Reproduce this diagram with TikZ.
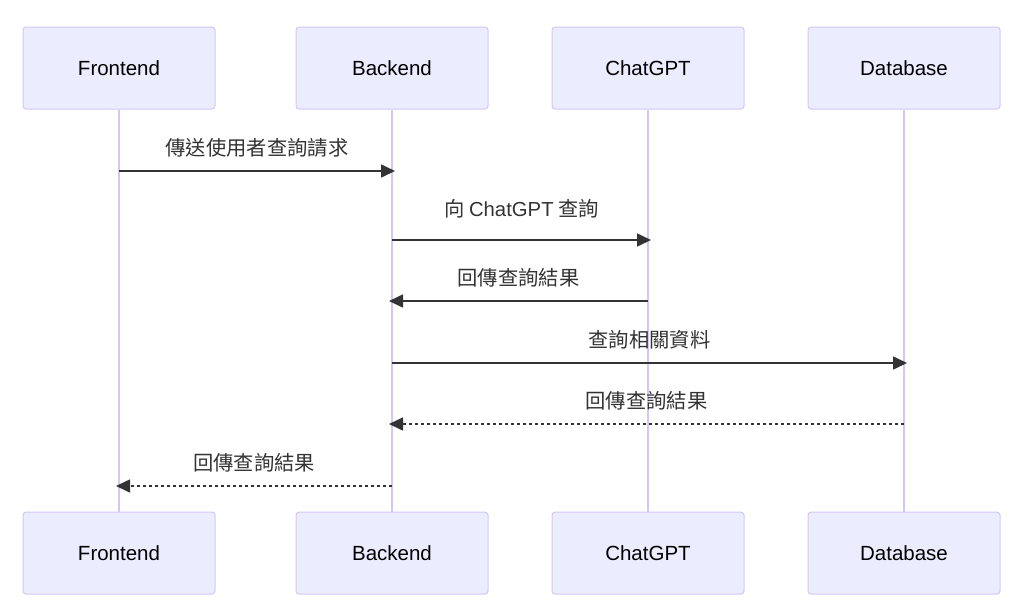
\documentclass[tikz,border=0pt]{standalone}
\usepackage{fontspec}
\setmainfont{Liberation Sans}
\newfontfamily\cjk{Noto Sans CJK TC}
\usetikzlibrary{arrows.meta}
\definecolor{actfill}{HTML}{ECECFF}
\definecolor{actline}{HTML}{D4C7F4}
\definecolor{msgc}{HTML}{333333}
\begin{document}
\begin{tikzpicture}[x=1pt,y=-1pt,
  actor/.style={draw=actline,fill=actfill,line width=1pt,rounded corners=3pt,minimum width=192pt,minimum height=82pt,inner sep=0pt,font=\fontsize{20.5}{24}\selectfont,text=black},
  life/.style={draw=actline,line width=2pt},
  msg/.style={draw=msgc,line width=1.6pt,-{Triangle[length=14pt,width=13pt]}},
  reply/.style={msg,dash pattern=on 3pt off 3pt},
  lbl/.style={font=\fontsize{20.3}{24}\selectfont\cjk,text=msgc,inner sep=0pt}]
\useasboundingbox (0,0) rectangle (1018,603);
\node[actor] (ft) at (119,68) {Frontend};
\node[actor] (bt) at (392,68) {Backend};
\node[actor] (ct) at (648,68) {ChatGPT};
\node[actor] (dt) at (904,68) {Database};
\node[actor] (fb) at (119,553) {Frontend};
\node[actor] (bb) at (392,553) {Backend};
\node[actor] (cb) at (648,553) {ChatGPT};
\node[actor] (db) at (904,553) {Database};
\draw[life] (ft.south) -- (fb.north);
\draw[life] (bt.south) -- (bb.north);
\draw[life] (ct.south) -- (cb.north);
\draw[life] (dt.south) -- (db.north);
% message y levels
\coordinate (y1) at (0,171);
\coordinate (y2) at (0,240);
\coordinate (y3) at (0,301);
\coordinate (y4) at (0,363);
\coordinate (y5) at (0,424);
\coordinate (y6) at (0,486);
\draw[msg] (ft |- y1) -- ([xshift=3pt]bt |- y1) node[lbl,midway,above=13pt] (l1) {傳送使用者查詢請求};
\draw[msg] (bt |- y2) -- ([xshift=3pt]ct |- y2) node[lbl,midway,above=21pt] (l2) {向 {\setmainfont{Liberation Sans}\rmfamily ChatGPT} 查詢};
\draw[msg] (ct |- y3) -- ([xshift=-3pt]bt |- y3) node[lbl,midway,above=13pt] (l3) {回傳查詢結果};
\draw[msg] (bt |- y4) -- ([xshift=3pt]dt |- y4) node[lbl,midway,above=13pt] (l4) {查詢相關資料};
\draw[reply] (dt |- y5) -- ([xshift=-3pt]bt |- y5) node[lbl,midway,above=13pt] (l5) {回傳查詢結果};
\draw[reply] (bt |- y6) -- ([xshift=-3pt]ft |- y6) node[lbl,midway,above=13pt] (l6) {回傳查詢結果};
\end{tikzpicture}
\end{document}
